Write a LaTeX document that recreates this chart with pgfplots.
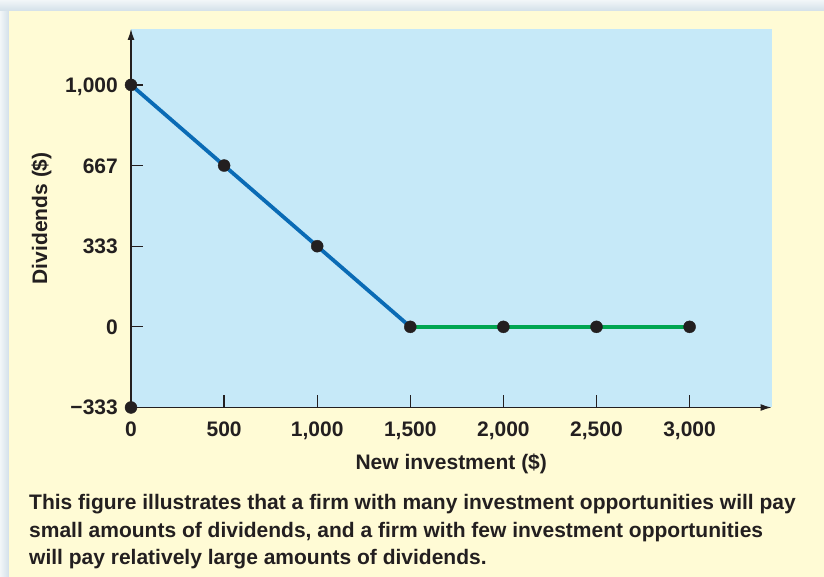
\documentclass[border=0pt]{standalone}
\usepackage{pgfplots}
\pgfplotsset{compat=1.18}
\usepackage{fontspec}
\setmainfont{Liberation Sans}
\usetikzlibrary{arrows.meta}
\definecolor{bgblue}{HTML}{C6E9F8}
\definecolor{cream}{HTML}{FFFBD5}
\definecolor{lineblue}{HTML}{0A6BB5}
\definecolor{linegreen}{HTML}{00A651}
\definecolor{dotcol}{HTML}{231F20}
\definecolor{txt}{HTML}{231F20}
\definecolor{edgeA}{HTML}{F2F6F8}
\definecolor{edgeB}{HTML}{D3E0E9}
\begin{document}
\begin{tikzpicture}[x=1pt,y=1pt]
\useasboundingbox (0,0) rectangle (824,577);
\shade[left color=edgeA, right color=edgeB] (0,0) rectangle (9,577);
\shade[top color=edgeA, bottom color=edgeB] (0,566) rectangle (824,577);
\fill[cream] (9,0) rectangle (824,566);
\begin{axis}[
  at={(131pt,169.5pt)}, anchor=south west,
  scale only axis, width=640.5pt, height=378.5pt,
  xmin=0, xmax=3440, ymin=-333.33, ymax=1231,
  axis lines=left,
  axis line style={line width=1.3pt, dotcol, -{Latex[length=11pt,width=7pt]}},
  axis background/.style={fill=bgblue},
  clip=false,
  tick align=inside,
  major tick length=12pt,
  tick style={line width=1.3pt, dotcol},
  xtick={0,500,1000,1500,2000,2500,3000},
  xticklabels={0,500,{1,000},{1,500},{2,000},{2,500},{3,000}},
  ytick={-333.33,0,333.33,666.67,1000},
  yticklabels={−333,0,333,667,{1,000}},
  tick label style={font=\fontsize{21}{21}\selectfont\bfseries, text=txt},
  xticklabel style={anchor=base, inner sep=0pt, yshift=-29pt},
  yticklabel style={anchor=base east, inner sep=0pt, xshift=-13pt, yshift=-7.5pt},
  xlabel={New investment (\$)},
  ylabel={Dividends (\$)},
  label style={font=\fontsize{21}{21}\selectfont\bfseries, text=txt, inner sep=0pt},
  xlabel style={at={(axis description cs:0.5,-0.1651)}, anchor=base},
  ylabel style={at={(axis description cs:-0.1311,0.5)}, anchor=base},
]
\addplot[lineblue, line width=3.8pt] coordinates {(0,1000) (1500,0)};
\addplot[linegreen, line width=3.6pt] coordinates {(1500,0) (3000,0)};
\addplot[only marks, mark=*, mark size=6pt, mark options={fill=dotcol, draw=dotcol}]
  coordinates {(0,1000) (500,666.67) (1000,333.33) (1500,0) (2000,0) (2500,0) (3000,0) (0,-333.33)};
\end{axis}
\begin{scope}[every node/.style={anchor=base west, inner sep=0pt, text=txt, font=\fontsize{21}{21}\selectfont\bfseries}]
\node at (29,67) {This figure illustrates that a firm with many investment opportunities will pay};
\node at (29,39.5) {small amounts of dividends, and a firm with few investment opportunities};
\node at (29,12) {will pay relatively large amounts of dividends.};
\end{scope}
\end{tikzpicture}
\end{document}
